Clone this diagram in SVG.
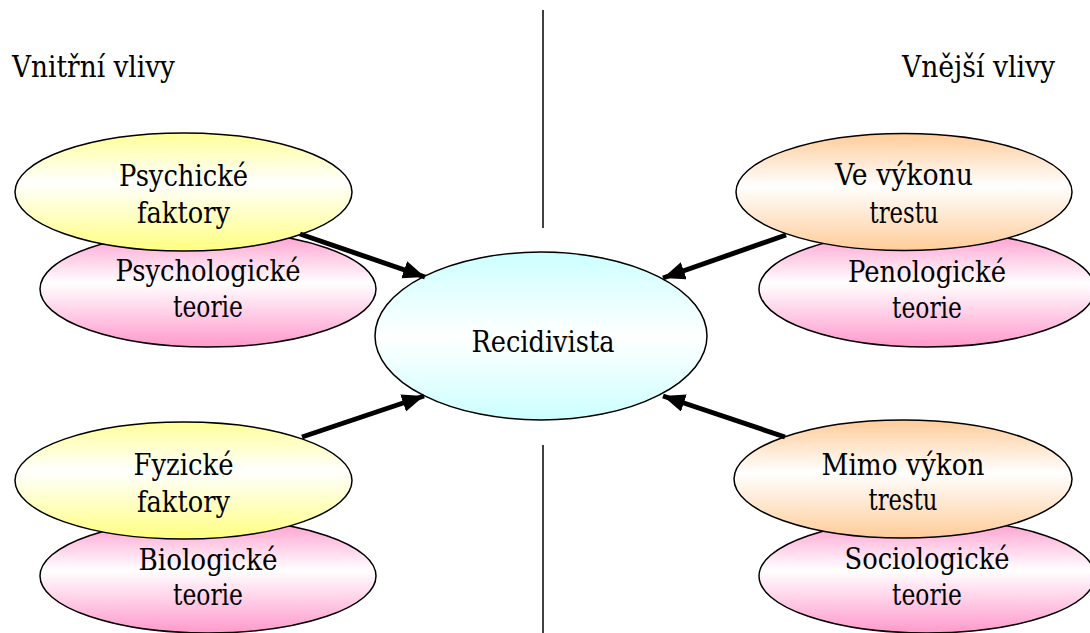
<svg xmlns="http://www.w3.org/2000/svg" width="1090" height="633" viewBox="0 0 1090 633">
<defs>
<linearGradient id="gY" x1="0" y1="0" x2="0" y2="1"><stop offset="0" stop-color="#ffff99"/><stop offset="0.42" stop-color="#ffffff"/><stop offset="1" stop-color="#ffff80"/></linearGradient>
<linearGradient id="gP" x1="0" y1="0" x2="0" y2="1"><stop offset="0" stop-color="#ff99cc"/><stop offset="0.45" stop-color="#ffffff"/><stop offset="1" stop-color="#ff99cc"/></linearGradient>
<linearGradient id="gO" x1="0" y1="0" x2="0" y2="1"><stop offset="0" stop-color="#ffcc99"/><stop offset="0.45" stop-color="#ffffff"/><stop offset="1" stop-color="#ffcc99"/></linearGradient>
<linearGradient id="gC" x1="0" y1="0" x2="0" y2="1"><stop offset="0" stop-color="#ccffff"/><stop offset="0.5" stop-color="#ffffff"/><stop offset="1" stop-color="#ccffff"/></linearGradient>
<marker id="ah" markerUnits="userSpaceOnUse" markerWidth="24" markerHeight="20" refX="22" refY="9" orient="auto"><path d="M0,0 L22,9 L0,18 Z" fill="#000"/></marker>
</defs>
<style>
.c{text-anchor:middle}
text{lengthAdjust:spacingAndGlyphs}
ellipse{stroke:#000;stroke-width:1.5}
.conn line{stroke:#000;stroke-width:5;marker-end:url(#ah)}
.div{stroke:#000;stroke-width:1.5}
</style>
<rect width="1090" height="633" fill="#fff"/>
<g id="dividers">
<line class="div" x1="543" y1="10" x2="543" y2="228"/>
<line class="div" x1="543" y1="445" x2="543" y2="633"/>
</g>
<g font-family="'DejaVu Serif', serif" font-size="30" fill="#000">
<g id="labels">
<text x="12" y="77" textLength="163" lengthAdjust="spacingAndGlyphs">Vnitřní vlivy</text>
<text x="902" y="77" textLength="153" lengthAdjust="spacingAndGlyphs">Vnější vlivy</text>
</g>
<g id="n-psychologicke"><ellipse cx="208" cy="289" rx="168" ry="58" fill="url(#gP)"/><text class="c" x="208" y="281" textLength="185" lengthAdjust="spacingAndGlyphs">Psychologické</text><text class="c" x="208" y="317" textLength="70" lengthAdjust="spacingAndGlyphs">teorie</text></g>
<g id="n-psychicke"><ellipse cx="183.5" cy="192" rx="168.5" ry="59" fill="url(#gY)"/><text class="c" x="183.5" y="186" textLength="129" lengthAdjust="spacingAndGlyphs">Psychické</text><text class="c" x="183.5" y="223" textLength="93" lengthAdjust="spacingAndGlyphs">faktory</text></g>
<g id="n-penologicke"><ellipse cx="927" cy="289" rx="168" ry="58" fill="url(#gP)"/><text class="c" x="927" y="282" textLength="158" lengthAdjust="spacingAndGlyphs">Penologické</text><text class="c" x="927" y="318" textLength="70" lengthAdjust="spacingAndGlyphs">teorie</text></g>
<g id="n-vevykonu"><ellipse cx="904" cy="192" rx="168" ry="58.5" fill="url(#gO)"/><text class="c" x="904" y="185" textLength="138" lengthAdjust="spacingAndGlyphs">Ve výkonu</text><text class="c" x="904" y="223" textLength="69" lengthAdjust="spacingAndGlyphs">trestu</text></g>
<g id="n-biologicke"><ellipse cx="208" cy="576" rx="168" ry="57" fill="url(#gP)"/><text class="c" x="208" y="570" textLength="139" lengthAdjust="spacingAndGlyphs">Biologické</text><text class="c" x="208" y="605" textLength="70" lengthAdjust="spacingAndGlyphs">teorie</text></g>
<g id="n-fyzicke"><ellipse cx="183.5" cy="480.5" rx="168.5" ry="58.5" fill="url(#gY)"/><text class="c" x="183.5" y="475" textLength="100" lengthAdjust="spacingAndGlyphs">Fyzické</text><text class="c" x="183.5" y="512" textLength="93" lengthAdjust="spacingAndGlyphs">faktory</text></g>
<g id="n-sociologicke"><ellipse cx="927" cy="576" rx="168" ry="57" fill="url(#gP)"/><text class="c" x="927" y="569" textLength="165" lengthAdjust="spacingAndGlyphs">Sociologické</text><text class="c" x="927" y="605" textLength="70" lengthAdjust="spacingAndGlyphs">teorie</text></g>
<g id="n-mimovykon"><ellipse cx="903" cy="479" rx="169" ry="59" fill="url(#gO)"/><text class="c" x="903" y="475" textLength="163" lengthAdjust="spacingAndGlyphs">Mimo výkon</text><text class="c" x="903" y="510" textLength="69" lengthAdjust="spacingAndGlyphs">trestu</text></g>
<g id="n-recidivista"><ellipse cx="541" cy="336" rx="166" ry="84" fill="url(#gC)"/><text class="c" x="543" y="352" textLength="143" lengthAdjust="spacingAndGlyphs">Recidivista</text></g>
</g>
<g class="conn" id="connectors">
<line x1="300" y1="234" x2="425" y2="277"/>
<line x1="786" y1="235" x2="663" y2="278"/>
<line x1="302" y1="437" x2="424" y2="396"/>
<line x1="785" y1="437" x2="663" y2="396"/>
</g>
</svg>
